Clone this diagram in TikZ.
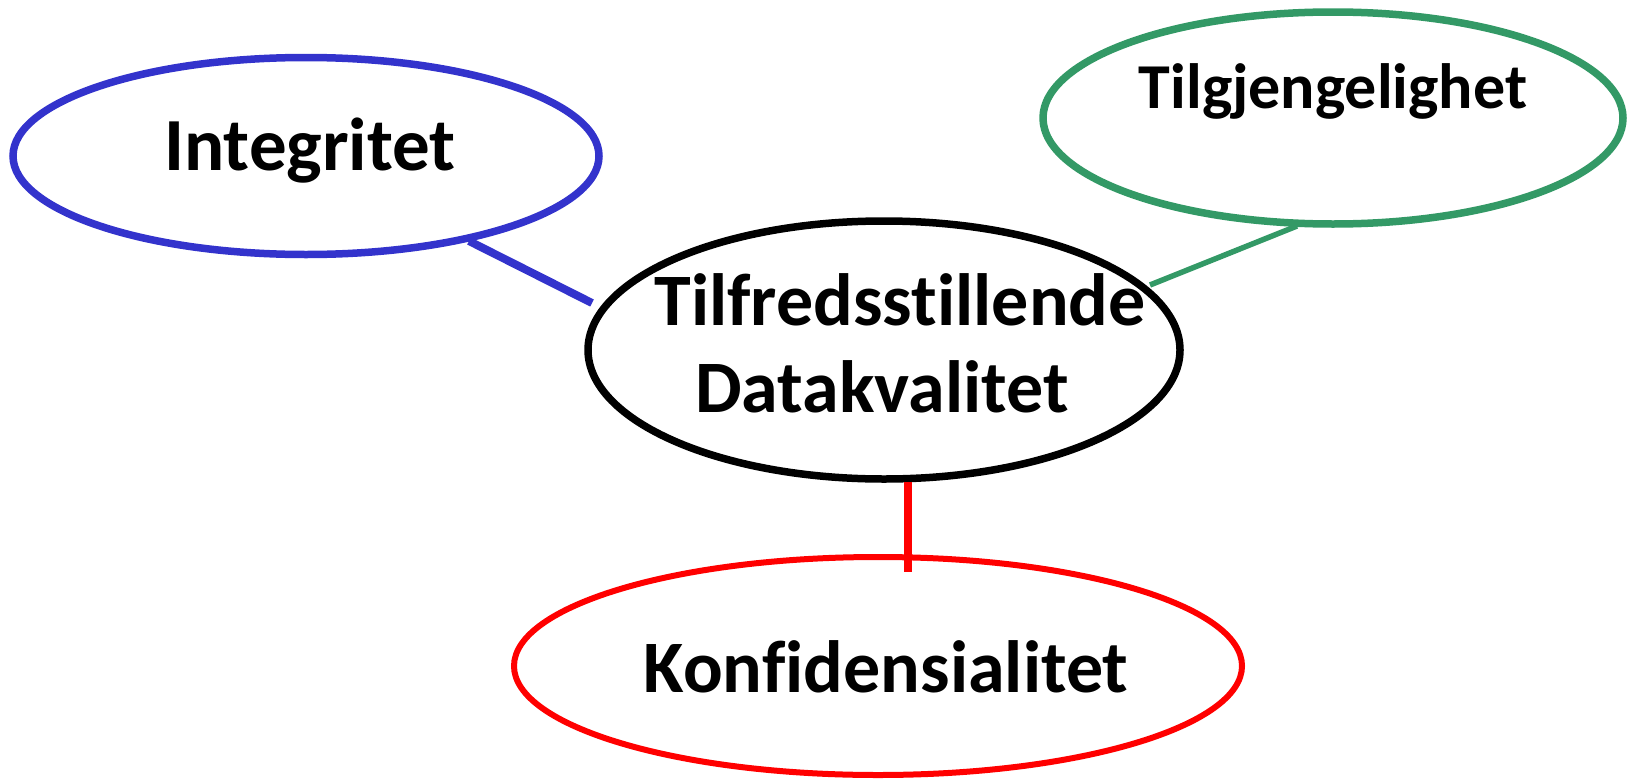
\documentclass[tikz,border=0pt]{standalone}
\usepackage{fontspec}
\setmainfont{Carlito}[Ligatures=NoCommon, RawFeature={-liga;-clig;-dlig}]
\usetikzlibrary{shapes.geometric}
\definecolor{cblue}{RGB}{51,51,204}
\definecolor{cgreen}{RGB}{51,153,102}
\definecolor{cred}{RGB}{255,0,0}
\tikzset{
  oval/.style={ellipse, draw, inner sep=0pt},
  lbl/.style={font=\bfseries, inner sep=0pt, anchor=base, text=black},
}
\begin{document}
\begin{tikzpicture}[x=1pt,y=-1pt]
\useasboundingbox (0,0) rectangle (1627,779);
% ellipses
\node[oval, draw=cblue, line width=7.5pt, minimum width=586pt, minimum height=197pt] (integ) at (306,156) {};
\node[oval, draw=cgreen, line width=7.5pt, minimum width=580pt, minimum height=212pt] (tilg) at (1333,118) {};
\node[oval, draw=black, line width=7.5pt, minimum width=592pt, minimum height=258pt] (tilf) at (884,350) {};
\node[oval, draw=cred, line width=6pt, minimum width=728pt, minimum height=218pt] (konf) at (878,666) {};
% labels
\node[lbl, font=\bfseries\fontsize{75}{90}\selectfont] (tInteg) at (310,170) {Integritet};
\node[lbl, font=\bfseries\fontsize{64}{77}\selectfont] (tTilg) at (1333,108) {Tilgjengelighet};
\node[lbl, font=\bfseries\fontsize{74}{89}\selectfont] (tTilf1) at (900,325) {Tilfredsstillende};
\node[lbl, font=\bfseries\fontsize{74}{89}\selectfont] (tTilf2) at (882,412) {Datakvalitet};
\node[lbl, font=\bfseries\fontsize{74}{89}\selectfont] (tKonf) at (886,692) {Konfidensialitet};
% connector ends
\coordinate (b1) at (469,241);
\coordinate (b2) at (592,303);
\coordinate (g1) at (1297,226);
\coordinate (g2) at (1150,285);
\coordinate (r1) at (908,482);
\coordinate (r2) at (908,572);
\draw[cblue, line width=8pt] (b1) -- (b2);
\draw[cgreen, line width=5.5pt] (g1) -- (g2);
\draw[cred, line width=8pt] (r1) -- (r2);
\end{tikzpicture}
\end{document}
